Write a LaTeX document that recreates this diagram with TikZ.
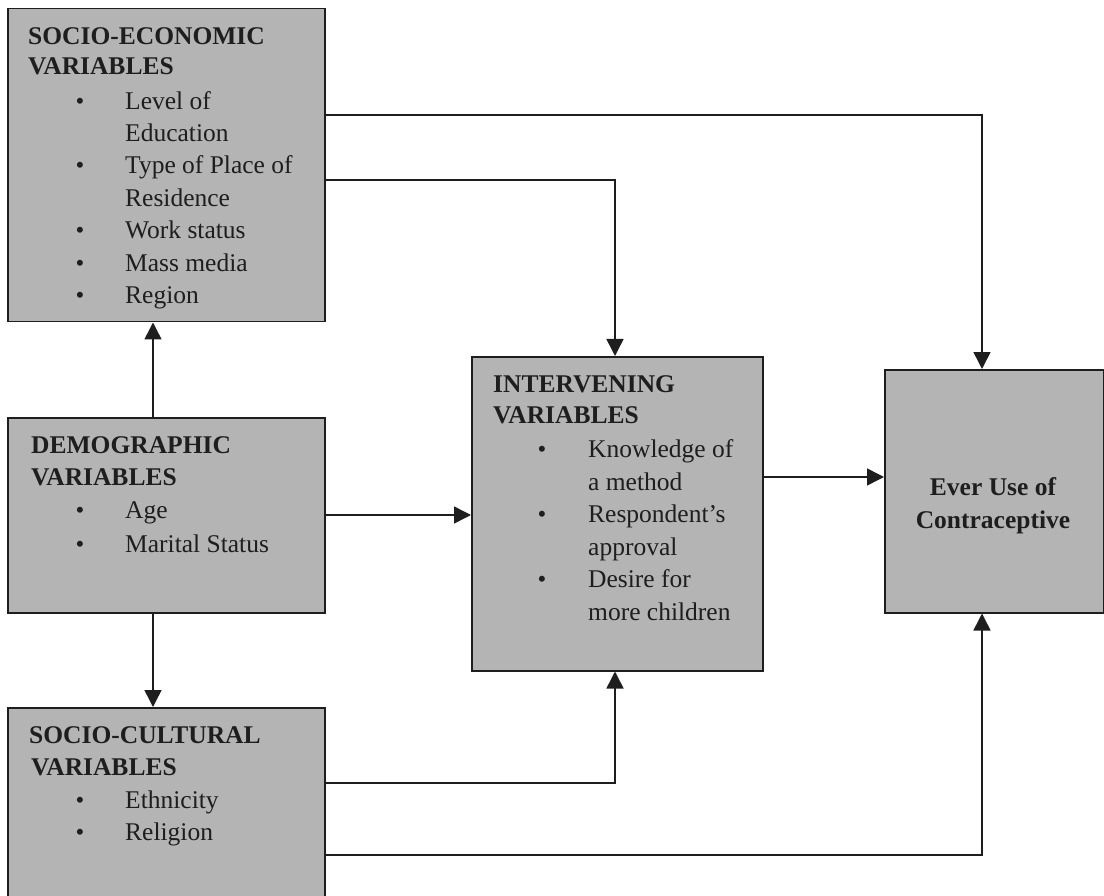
\documentclass[tikz,border=0pt]{standalone}
\usepackage{fontspec}
\setmainfont{Liberation Serif}
\usetikzlibrary{arrows.meta}
\definecolor{boxfill}{RGB}{180,180,180}
\definecolor{ink}{RGB}{30,30,30}
\tikzset{
  x=1pt, y=-1pt,
  varbox/.style={draw=ink, line width=1.5pt, fill=boxfill, rectangle, anchor=north west, inner sep=0pt},
  ttl/.style={anchor=base west, inner sep=0pt, text=ink, font=\fontsize{25.5}{30}\selectfont\bfseries},
  itm/.style={anchor=base west, inner sep=0pt, text=ink, font=\fontsize{25.5}{30}\selectfont},
  bul/.style={anchor=base, inner sep=0pt, text=ink, font=\fontsize{25}{30}\selectfont},
  ctr/.style={anchor=base, inner sep=0pt, text=ink, font=\fontsize{25.5}{30}\selectfont\bfseries},
  arr/.style={draw=ink, line width=1.5pt, -{Triangle[length=17pt,width=17pt]}}
}
\begin{document}
\begin{tikzpicture}
\useasboundingbox (0,0) rectangle (1104,896);
\clip (0,0) rectangle (1104,896);
% boxes
\node[varbox, minimum width=317pt, minimum height=313pt] (se) at (7,8) {};
\node[varbox, minimum width=317pt, minimum height=195pt] (demo) at (7,417) {};
\node[varbox, minimum width=317pt, minimum height=200pt] (sc) at (7,707) {};
\node[varbox, minimum width=291pt, minimum height=314pt] (int) at (471,356) {};
\node[varbox, minimum width=219pt, minimum height=243pt] (ever) at (884,369) {};
% text: socio-economic
\node[ttl] (t1) at (28,45) {SOCIO-ECONOMIC};
\node[ttl] (t2) at (28,75) {VARIABLES};
\node[bul] (b1) at (80,110) {\textbullet};
\node[itm] (i1) at (125,110) {Level of};
\node[itm] (i2) at (125,142) {Education};
\node[bul] (b2) at (80,174) {\textbullet};
\node[itm] (i3) at (125,174) {Type of Place of};
\node[itm] (i4) at (125,207) {Residence};
\node[bul] (b3) at (80,239) {\textbullet};
\node[itm] (i5) at (125,239) {Work status};
\node[bul] (b4) at (80,272) {\textbullet};
\node[itm] (i6) at (125,272) {Mass media};
\node[bul] (b5) at (80,304) {\textbullet};
\node[itm] (i7) at (125,304) {Region};
% demographic
\node[ttl] (d1) at (31,453) {DEMOGRAPHIC};
\node[ttl] (d2) at (31,485) {VARIABLES};
\node[bul] (db1) at (80,518) {\textbullet};
\node[itm] (di1) at (125,518) {Age};
\node[bul] (db2) at (80,552) {\textbullet};
\node[itm] (di2) at (125,552) {Marital Status};
% socio-cultural
\node[ttl] (s1) at (29,743) {SOCIO-CULTURAL};
\node[ttl] (s2) at (31,775) {VARIABLES};
\node[bul] (sb1) at (80,808) {\textbullet};
\node[itm] (si1) at (125,808) {Ethnicity};
\node[bul] (sb2) at (80,840) {\textbullet};
\node[itm] (si2) at (125,840) {Religion};
% intervening
\node[ttl] (n1) at (493,392) {INTERVENING};
\node[ttl] (n2) at (493,423) {VARIABLES};
\node[bul] (nb1) at (542,457) {\textbullet};
\node[itm] (ni1) at (588,457) {Knowledge of};
\node[itm] (ni2) at (588,490) {a method};
\node[bul] (nb2) at (542,522) {\textbullet};
\node[itm] (ni3) at (588,522) {Respondent’s};
\node[itm] (ni4) at (588,555) {approval};
\node[bul] (nb3) at (542,587) {\textbullet};
\node[itm] (ni5) at (588,587) {Desire for};
\node[itm] (ni6) at (588,620) {more children};
% ever use
\node[ctr] (e1) at (993,495) {Ever Use of};
\node[ctr] (e2) at (993,528) {Contraceptive};
% connector guide coordinates
\coordinate (xl) at (153,0);
\coordinate (xm) at (615,0);
\coordinate (xr) at (982,0);
\coordinate (ya) at (0,115);
\coordinate (yb) at (0,180);
\coordinate (yc) at (0,477);
\coordinate (yd) at (0,515);
\coordinate (ye) at (0,783);
\coordinate (yf) at (0,855);
% connectors
\draw[arr] (demo.north -| xl) -- (se.south -| xl);
\draw[arr] (demo.south -| xl) -- (sc.north -| xl);
\draw[arr] (demo.east |- yd) -- (int.west |- yd);
\draw[arr] (int.east |- yc) -- (ever.west |- yc);
\draw[arr] (se.east |- ya) -| (ever.north -| xr);
\draw[arr] (se.east |- yb) -| (int.north -| xm);
\draw[arr] (sc.east |- ye) -| (int.south -| xm);
\draw[arr] (sc.east |- yf) -| (ever.south -| xr);
\end{tikzpicture}
\end{document}
